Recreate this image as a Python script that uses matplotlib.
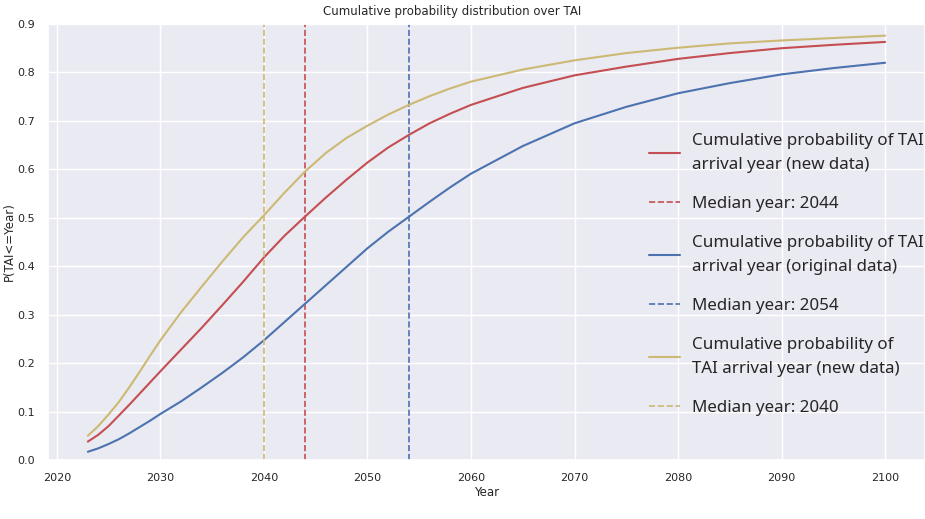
import numpy as np
import matplotlib
matplotlib.use("Agg")
import matplotlib.pyplot as plt
import seaborn as sns

# Values
years = [2023, 2024, 2025, 2026, 2027, 2028, 2029, 2030, 2032, 2034, 2036, 2038,
         2040, 2042, 2044, 2046, 2048, 2050, 2052, 2054, 2056, 2058, 2060,
         2065, 2070, 2075, 2080, 2085, 2090, 2095, 2100]
cdf_new = [0.038, 0.052, 0.070, 0.092, 0.114, 0.137, 0.160, 0.183, 0.228, 0.273, 0.320, 0.368,
           0.418, 0.463, 0.503, 0.542, 0.579, 0.614, 0.645, 0.671, 0.695, 0.715, 0.733,
           0.768, 0.794, 0.812, 0.828, 0.840, 0.850, 0.857, 0.863]
cdf_original = [0.017, 0.024, 0.033, 0.043, 0.055, 0.068, 0.081, 0.095, 0.121, 0.150, 0.180, 0.212,
                0.247, 0.285, 0.323, 0.361, 0.399, 0.437, 0.471, 0.502, 0.533, 0.563, 0.591,
                0.648, 0.695, 0.729, 0.757, 0.778, 0.796, 0.809, 0.820]
cdf_new2 = [0.050, 0.070, 0.094, 0.120, 0.150, 0.182, 0.215, 0.247, 0.305, 0.358, 0.410, 0.460,
            0.505, 0.552, 0.596, 0.634, 0.665, 0.690, 0.713, 0.733, 0.751, 0.767, 0.781,
            0.806, 0.825, 0.840, 0.851, 0.860, 0.866, 0.871, 0.876]
median_new = 2044
median_original = 2054
median_new2 = 2040

sns.set_theme(style="darkgrid", color_codes=True)

fig = plt.figure(figsize=(9.25, 5.19), dpi=100)
ax = fig.add_axes([48 / 925, 59 / 519, 877 / 925, 436 / 519])

ax.plot(years, cdf_new, color="r", lw=1.5,
        label="Cumulative probability of TAI\narrival year (new data)")
ax.axvline(median_new, color="r", ls="--", lw=1.2, label=f"Median year: {median_new}")
ax.plot(years, cdf_original, color="b", lw=1.5,
        label="Cumulative probability of TAI\narrival year (original data)")
ax.axvline(median_original, color="b", ls="--", lw=1.2, label=f"Median year: {median_original}")
ax.plot(years, cdf_new2, color="y", lw=1.5,
        label="Cumulative probability of\nTAI arrival year (new data)")
ax.axvline(median_new2, color="y", ls="--", lw=1.2, label=f"Median year: {median_new2}")

ax.set_ylim(0, 0.9)
ax.set_xlim(2019.15, 2103.85)
ax.set_xticks(range(2020, 2101, 10))
ax.set_yticks(np.arange(0, 0.91, 0.1))
ax.tick_params(labelsize=8)
ax.set_xlabel("Year", fontsize=8.5, labelpad=2)
ax.set_ylabel("P(TAI<=Year)", fontsize=8.5, labelpad=1)

fig.text(452 / 925, 1 - 12 / 519, "Cumulative probability distribution over TAI",
         ha="center", va="center", fontsize=8.5)

leg = ax.legend(loc="center left", bbox_to_anchor=(0.668, 0.425), frameon=False,
                prop={"family": "Noto Sans", "size": 12.2}, handlelength=1.8,
                handletextpad=0.75, labelspacing=1.38)
for t in leg.get_texts():
    t.set_linespacing(1.6)

fig.savefig("out.png", dpi=100)
